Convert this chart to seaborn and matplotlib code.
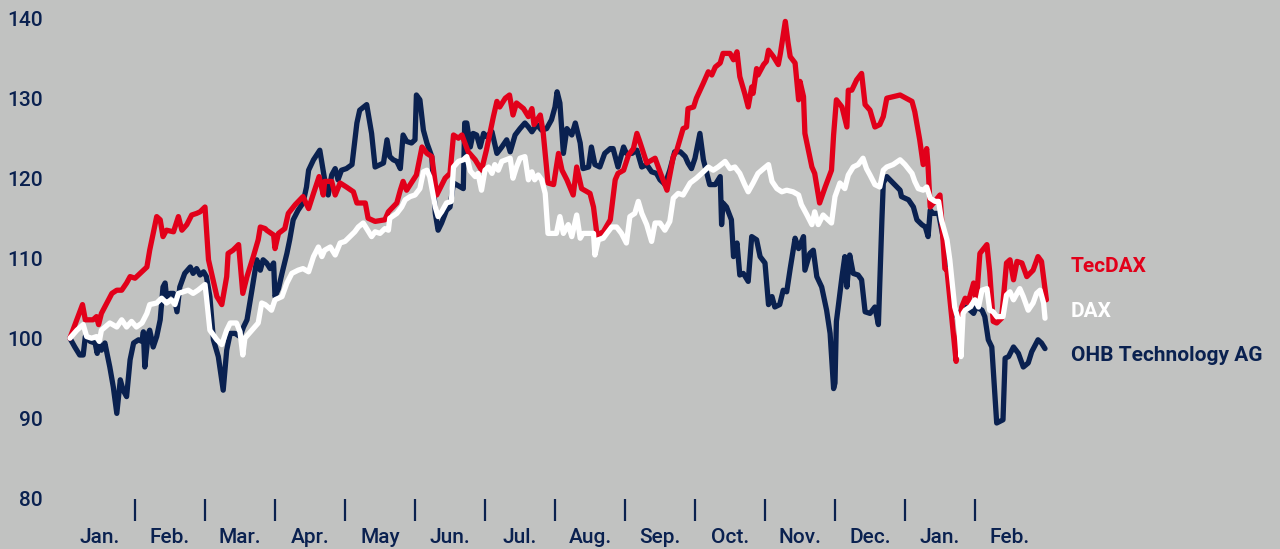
import matplotlib
matplotlib.use("Agg")
import matplotlib.pyplot as plt
import seaborn as sns

# month axis: 0 = start of January, one unit per month (14 months shown)
months = ["Jan.", "Feb.", "Mar.", "Apr.", "May", "Jun.", "Jul.", "Aug.",
          "Sep.", "Oct.", "Nov.", "Dec.", "Jan.", "Feb."]
y_ticks = [80, 90, 100, 110, 120, 130, 140]

tecdax_t = [0.07, 0.25, 0.29, 0.40, 0.45, 0.48, 0.52, 0.67, 0.74, 0.81, 0.88, 0.93, 1.00, 1.12, 1.17, 1.21, 1.31, 1.36, 1.40, 1.45,
            1.55, 1.62, 1.67, 1.74, 1.81, 1.88, 1.93, 2.00, 2.05, 2.17, 2.24, 2.31, 2.33, 2.40, 2.48, 2.54, 2.60, 2.69, 2.76, 2.79, 2.86,
            2.88, 2.98, 3.00, 3.05, 3.14, 3.19, 3.29, 3.40, 3.48, 3.55, 3.63, 3.69, 3.71, 3.81, 3.86, 3.93, 4.02, 4.12, 4.17, 4.29,
            4.33, 4.43, 4.57, 4.62, 4.74, 4.79, 4.83, 4.88, 5.02, 5.10, 5.17, 5.24, 5.31, 5.43, 5.50, 5.55, 5.62, 5.67, 5.76,
            5.86, 5.95, 6.02, 6.12, 6.17, 6.21, 6.29, 6.35, 6.40, 6.45, 6.55, 6.62, 6.67, 6.70, 6.79, 6.83, 6.90, 6.98, 7.05, 7.10,
            7.17, 7.26, 7.31, 7.38, 7.50, 7.55, 7.60, 7.69, 7.79, 7.86, 7.90, 7.98, 8.05, 8.12, 8.17, 8.21, 8.31, 8.43, 8.50, 8.60,
            8.69, 8.74, 8.83, 8.88, 8.90, 8.98, 9.02, 9.12, 9.19, 9.24, 9.29, 9.36, 9.40, 9.50, 9.55, 9.60, 9.64, 9.71, 9.76, 9.81,
            9.83, 9.88, 9.90, 9.98, 10.02, 10.05, 10.12, 10.19, 10.22, 10.29, 10.33, 10.36, 10.43, 10.48, 10.50, 10.55, 10.57, 10.67, 10.71, 10.78,
            10.86, 10.95, 10.98, 11.02, 11.10, 11.17, 11.19, 11.24, 11.31, 11.38, 11.43, 11.50,
            11.57, 11.64, 11.69, 11.74, 11.93, 12.10, 12.14, 12.21, 12.26, 12.31, 12.33, 12.36, 12.48, 12.50, 12.57, 12.60, 12.73, 12.76, 12.81, 12.86,
            12.90, 12.98, 13.02, 13.07, 13.17, 13.21, 13.26, 13.31, 13.38, 13.45, 13.50, 13.55, 13.60, 13.67, 13.74, 13.83, 13.90, 13.95, 14.02]
tecdax_v = [100.1, 104.3, 102.4, 102.4, 102.8, 101.8, 103.2, 105.7, 106.1, 106.1, 107.0, 107.8, 107.6, 108.6, 109.0, 111.1, 115.3, 114.9, 112.8, 113.6,
            113.4, 115.3, 113.6, 114.3, 115.5, 115.7, 115.9, 116.5, 109.9, 105.3, 104.3, 107.8, 110.7, 111.1, 111.8, 105.7, 107.8, 110.3, 112.4, 114.0, 113.8,
            113.6, 113.0, 111.3, 113.2, 113.8, 115.7, 116.8, 117.8, 116.3, 118.2, 120.3, 118.0, 119.7, 119.7, 118.0, 119.5, 119.0, 118.4, 117.0, 117.0,
            115.1, 114.7, 114.9, 115.9, 117.0, 118.6, 119.7, 118.6, 120.5, 124.0, 123.2, 122.8, 118.0, 120.1, 120.7, 125.5, 125.1, 125.5, 123.4,
            122.4, 121.1, 123.6, 127.8, 129.7, 129.0, 130.1, 130.5, 128.0, 129.5, 128.8, 127.8, 128.8, 126.8, 128.0, 125.9, 119.5, 119.3, 123.2, 121.1,
            119.9, 118.0, 121.5, 118.8, 118.2, 116.5, 113.0, 113.4, 114.9, 119.9, 120.7, 121.1, 123.0, 123.8, 125.7, 124.7, 122.0, 122.6, 120.9, 118.6,
            122.8, 123.6, 126.3, 126.5, 128.8, 129.0, 130.1, 132.0, 133.4, 133.0, 134.0, 134.5, 135.7, 135.7, 134.9, 135.9, 132.8, 130.7, 129.0, 131.5,
            130.7, 133.8, 133.0, 134.3, 134.7, 136.1, 135.3, 134.3, 135.7, 139.7, 137.0, 135.3, 134.5, 129.9, 132.2, 130.3, 125.7, 121.5, 120.7, 117.0,
            119.0, 121.1, 125.5, 129.9, 129.0, 126.5, 131.1, 131.1, 132.4, 133.2, 129.3, 128.6,
            126.5, 126.8, 127.8, 130.1, 130.5, 129.7, 128.4, 124.9, 121.8, 123.8, 121.5, 116.5, 117.8, 118.0, 108.8, 108.6, 97.2, 99.5, 104.0, 105.1,
            104.5, 107.0, 104.7, 110.7, 111.8, 108.4, 102.2, 102.0, 102.6, 109.5, 109.9, 107.4, 109.7, 109.5, 107.8, 108.6, 110.3, 109.7, 104.9]

dax_t = [0.07, 0.17, 0.26, 0.31, 0.38, 0.45, 0.49, 0.52, 0.64, 0.74, 0.81, 0.88, 0.95, 1.02, 1.10, 1.17, 1.21, 1.31, 1.38, 1.45,
         1.52, 1.57, 1.62, 1.76, 1.83, 1.90, 2.00, 2.02, 2.07, 2.17, 2.24, 2.31, 2.36, 2.45, 2.50, 2.54, 2.57, 2.67, 2.76, 2.81, 2.86,
         2.90, 2.95, 3.00, 3.10, 3.17, 3.24, 3.33, 3.40, 3.48, 3.55, 3.62, 3.67, 3.71, 3.79, 3.86, 3.93, 4.00, 4.07, 4.14, 4.19,
         4.26, 4.31, 4.38, 4.43, 4.50, 4.57, 4.62, 4.64, 4.74, 4.81, 4.86, 4.93, 5.00, 5.07, 5.12, 5.17, 5.21, 5.29, 5.33, 5.38,
         5.45, 5.52, 5.55, 5.62, 5.69, 5.74, 5.79,
         5.86, 5.90, 5.95, 6.00, 6.05, 6.10, 6.14, 6.19, 6.24, 6.36, 6.40, 6.45, 6.50, 6.57, 6.62, 6.67, 6.71, 6.76, 6.81, 6.86,
         6.90, 7.02, 7.07, 7.12, 7.19, 7.24, 7.31, 7.36, 7.40, 7.55, 7.57, 7.62, 7.69, 7.74, 7.81, 7.88, 7.95, 8.02, 8.07, 8.14,
         8.19, 8.24, 8.31, 8.38, 8.43, 8.50, 8.57, 8.64,
         8.69, 8.76, 8.83, 8.93, 9.02, 9.12, 9.19, 9.26, 9.33, 9.43, 9.50, 9.57, 9.64, 9.71, 9.76, 9.83, 9.90, 9.98, 10.05, 10.10,
         10.17, 10.24, 10.31, 10.40, 10.48, 10.52, 10.60, 10.67, 10.71, 10.76, 10.83, 10.90, 10.95, 11.00, 11.07, 11.14, 11.19, 11.26, 11.33, 11.40,
         11.45, 11.50,
         11.57, 11.64, 11.69, 11.74, 11.83, 11.93, 12.00, 12.10, 12.14, 12.19, 12.26, 12.31, 12.36, 12.43, 12.48, 12.52, 12.60, 12.64, 12.71, 12.76,
         12.80, 12.83, 12.86, 12.93, 13.00, 13.05, 13.10, 13.17, 13.21, 13.26, 13.31, 13.40, 13.45, 13.50, 13.55, 13.60, 13.64, 13.69, 13.76, 13.83,
         13.88, 13.93, 13.98, 14.00]
dax_v = [100.1, 101.1, 101.8, 100.3, 100.1, 100.3, 99.7, 101.1, 102.0, 101.5, 102.4, 101.5, 102.2, 101.5, 102.0, 103.2, 104.3, 104.5, 105.1, 104.5,
         104.9, 104.3, 105.7, 106.1, 105.7, 106.1, 106.8, 105.3, 101.1, 99.9, 99.3, 101.1, 102.0, 102.0, 100.9, 98.0, 100.1, 101.1, 102.0, 104.5, 104.3,
         104.0, 103.6, 104.9, 105.3, 107.0, 108.2, 108.6, 108.8, 108.4, 110.3, 111.5, 110.3, 111.1, 111.5, 110.5, 112.0, 112.2, 112.8, 113.4, 114.0,
         114.5, 113.8, 112.8, 113.4, 113.2, 113.8, 113.6, 115.1, 115.7, 116.5, 117.4, 117.8, 118.0, 118.8, 120.9, 121.1, 120.3, 116.5, 115.3, 115.9,
         117.0, 117.2, 121.5, 122.2, 122.4, 122.8, 121.0,
         120.3, 120.7, 118.6, 121.1, 121.5, 120.7, 121.8, 121.1, 122.2, 122.6, 120.1, 121.5, 122.6, 122.8, 119.9, 120.9, 119.9, 120.5, 119.9, 118.2,
         113.2, 113.2, 115.3, 113.2, 114.3, 112.8, 115.5, 112.6, 113.2, 113.2, 110.5, 112.4, 112.6, 113.2, 114.0, 114.0, 113.2, 112.0, 115.3, 115.7,
         117.2, 115.7, 114.3, 112.2, 114.5, 114.5, 113.6, 114.7,
         117.6, 118.2, 118.0, 119.5, 120.1, 120.9, 121.5, 121.1, 121.5, 122.2, 121.3, 121.5, 120.7, 119.3, 118.4, 119.5, 120.7, 121.3, 121.8, 119.7,
         118.8, 118.4, 118.6, 118.4, 118.0, 116.8, 115.5, 114.3, 115.9, 114.3, 115.5, 114.9, 114.5, 117.8, 119.5, 118.8, 120.5, 121.5, 121.8, 122.6,
         121.3, 120.5,
         119.3, 119.0, 121.1, 121.5, 121.8, 122.4, 121.8, 120.7, 119.7, 118.8, 118.6, 119.0, 117.6, 117.2, 117.2, 114.9, 112.4, 109.9, 104.0, 102.4,
         97.8, 103.2, 103.6, 104.0, 104.9, 104.0, 106.1, 106.3, 103.6, 103.4, 102.8, 102.8, 105.5, 105.9, 104.9, 105.7, 106.3, 105.3, 103.6, 104.5,
         105.7, 106.1, 104.5, 102.6]

ohb_t = [0.07, 0.14, 0.21, 0.26, 0.29, 0.36, 0.43, 0.46, 0.49, 0.52, 0.57, 0.64, 0.69, 0.74, 0.79, 0.83, 0.88, 0.93, 0.98, 1.05,
         1.10, 1.12, 1.14, 1.19, 1.21, 1.26, 1.31, 1.36, 1.40, 1.43, 1.45, 1.50, 1.55, 1.60, 1.64, 1.71, 1.79, 1.83, 1.88, 1.93,
         1.98, 2.02, 2.07, 2.12, 2.19, 2.26, 2.31, 2.36, 2.43, 2.50, 2.55, 2.60, 2.67, 2.74, 2.79, 2.83,
         2.88, 2.93, 2.98, 3.00, 3.05, 3.10, 3.17, 3.21, 3.26, 3.33, 3.40, 3.45, 3.48, 3.55, 3.64, 3.71, 3.76, 3.81, 3.86, 3.90,
         3.95, 4.02, 4.10, 4.17, 4.21, 4.31, 4.38, 4.43, 4.55, 4.60, 4.64, 4.69, 4.74, 4.79, 4.83, 4.88, 4.95, 5.00, 5.02, 5.07,
         5.12, 5.17, 5.24, 5.29, 5.33, 5.38, 5.45, 5.50, 5.55, 5.69, 5.71, 5.74,
         5.79, 5.83, 5.88, 5.93, 5.98, 6.02, 6.10, 6.17, 6.24, 6.31, 6.36, 6.43, 6.50, 6.57, 6.62, 6.67, 6.74, 6.81, 6.88, 6.95,
         7.00, 7.03, 7.07, 7.12, 7.17, 7.24, 7.29, 7.36, 7.40, 7.48, 7.52, 7.57, 7.64, 7.71, 7.79, 7.83, 7.90, 7.98, 8.02, 8.10,
         8.17, 8.24, 8.31, 8.38, 8.45, 8.50, 8.55,
         8.57, 8.64, 8.71, 8.79, 8.86, 8.90, 8.95, 9.00, 9.07, 9.12, 9.17, 9.21, 9.29, 9.36, 9.38, 9.40, 9.45, 9.52, 9.55, 9.60,
         9.64, 9.69, 9.76, 9.81, 9.88, 9.93, 10.00, 10.05, 10.10, 10.14, 10.21, 10.26, 10.31, 10.36, 10.43, 10.48, 10.55, 10.57, 10.64, 10.69,
         10.74, 10.81, 10.88, 10.93, 10.98, 11.00, 11.02, 11.10, 11.14, 11.17, 11.21, 11.26, 11.33, 11.38, 11.43, 11.50,
         11.57, 11.62, 11.67, 11.69, 11.74, 11.83, 11.93, 11.95, 12.05, 12.12, 12.17, 12.24, 12.29, 12.33, 12.36, 12.40, 12.48, 12.57, 12.71, 12.79,
         12.86, 12.93, 12.98, 13.02, 13.10, 13.14, 13.19, 13.24, 13.31, 13.40, 13.43, 13.48, 13.55, 13.62, 13.69, 13.76, 13.81, 13.90, 13.95, 14.00]
ohb_v = [100.1, 99.0, 98.0, 98.0, 100.3, 99.7, 99.5, 98.2, 99.5, 98.6, 99.5, 96.5, 94.0, 90.7, 94.9, 93.6, 92.8, 97.4, 99.5, 99.9,
         99.7, 100.9, 96.5, 100.7, 101.1, 99.0, 100.3, 102.4, 106.5, 107.0, 105.3, 105.7, 105.7, 103.4, 106.5, 108.2, 109.0, 108.2, 108.8, 108.0,
         108.4, 107.8, 105.3, 99.9, 97.8, 93.6, 98.6, 100.7, 100.7, 100.3, 101.5, 102.4, 106.1, 109.9, 108.6, 109.9,
         109.5, 108.8, 109.5, 105.3, 106.3, 108.2, 110.7, 112.4, 114.9, 116.1, 117.0, 119.0, 121.1, 122.4, 123.6, 119.9, 118.0, 120.5, 121.3, 119.9,
         121.1, 121.3, 121.8, 127.0, 128.6, 129.3, 125.7, 121.5, 122.0, 124.9, 122.8, 122.4, 122.2, 121.3, 125.5, 124.7, 124.5, 124.9, 130.5, 129.9,
         126.1, 124.5, 122.8, 115.7, 113.6, 114.5, 116.1, 116.5, 119.5, 118.8, 127.0, 127.0,
         124.0, 125.7, 125.5, 124.0, 125.7, 125.3, 125.9, 123.2, 124.0, 124.9, 123.4, 125.5, 126.3, 127.0, 126.5, 125.9, 126.8, 126.1, 126.3, 127.4,
         129.0, 130.9, 129.5, 123.2, 126.3, 125.5, 127.0, 124.5, 121.3, 121.5, 124.0, 121.8, 121.5, 123.2, 123.8, 123.8, 121.5, 124.0, 123.2, 123.2,
         123.6, 121.5, 121.8, 120.9, 120.7, 119.9, 119.5,
         119.3, 121.1, 123.4, 123.4, 122.8, 122.0, 121.3, 122.6, 125.7, 122.4, 120.7, 119.3, 119.3, 120.3, 114.3, 117.0, 116.5, 114.9, 110.3, 112.0,
         108.0, 108.2, 107.2, 112.8, 112.4, 110.3, 109.5, 104.3, 105.3, 104.0, 104.3, 106.1, 105.9, 108.8, 112.6, 111.3, 112.8, 108.6, 110.7, 111.1,
         107.8, 106.5, 103.6, 100.7, 93.8, 94.5, 102.2, 107.8, 110.3, 106.5, 110.5, 108.2, 108.0, 107.4, 103.4, 103.2,
         104.0, 101.8, 114.9, 119.5, 120.3, 119.5, 118.6, 117.8, 117.4, 116.5, 114.9, 114.3, 114.0, 112.8, 116.1, 115.7, 115.7, 111.5, 103.0, 103.4,
         104.0, 103.6, 103.2, 104.0, 103.6, 102.8, 99.9, 99.0, 89.5, 89.9, 97.6, 97.8, 99.0, 98.2, 96.5, 97.0, 98.4, 99.9, 99.5, 98.8]

BG = "#c1c2c1"
NAVY = "#0a2150"
RED = "#e2001a"

sns.set_style("white")
plt.rcParams["font.family"] = ["Roboto", "DejaVu Sans"]

fig = plt.figure(figsize=(12.8, 5.49), dpi=100, facecolor=BG)
ax = fig.add_axes([65 / 1280, 50 / 549, 980 / 1280, 480 / 549])
ax.set_facecolor(BG)

# navy first, then red, white on top
for t, v, color in [(ohb_t, ohb_v, NAVY), (tecdax_t, tecdax_v, RED), (dax_t, dax_v, "white")]:
    sns.lineplot(x=t, y=v, color=color, linewidth=3.8, estimator=None, sort=False,
                 ax=ax, clip_on=False, solid_joinstyle="round", solid_capstyle="round")

ax.set_xlim(0, 14)
ax.set_ylim(80, 140)
ax.set_xlabel("")
ax.set_ylabel("")
for s in ax.spines.values():
    s.set_visible(False)

ax.set_yticks(y_ticks)
ax.tick_params(axis="y", left=False, length=0, pad=16, labelsize=15, labelcolor=NAVY)
ax.set_xticks([i + 0.5 for i in range(len(months))])
ax.set_xticklabels(months)
ax.set_xticks(range(1, len(months)), minor=True)
ax.tick_params(axis="x", which="major", bottom=False, length=0, pad=21, labelsize=15, labelcolor=NAVY)
ax.tick_params(axis="x", which="minor", bottom=True, length=16, width=1.6, color=NAVY, direction="out")
for lab in ax.get_xticklabels() + ax.get_yticklabels():
    lab.set_fontweight("medium")

# series names on the right
fig.text(1071 / 1280, 1 - 272 / 549, "TecDAX", color=RED, fontsize=15, fontweight="bold", va="baseline")
fig.text(1071 / 1280, 1 - 317 / 549, "DAX", color="white", fontsize=15, fontweight="bold", va="baseline")
fig.text(1071 / 1280, 1 - 361 / 549, "OHB Technology AG", color=NAVY, fontsize=15, fontweight="bold", va="baseline")

fig.savefig("out.png", dpi=100, facecolor=BG)
